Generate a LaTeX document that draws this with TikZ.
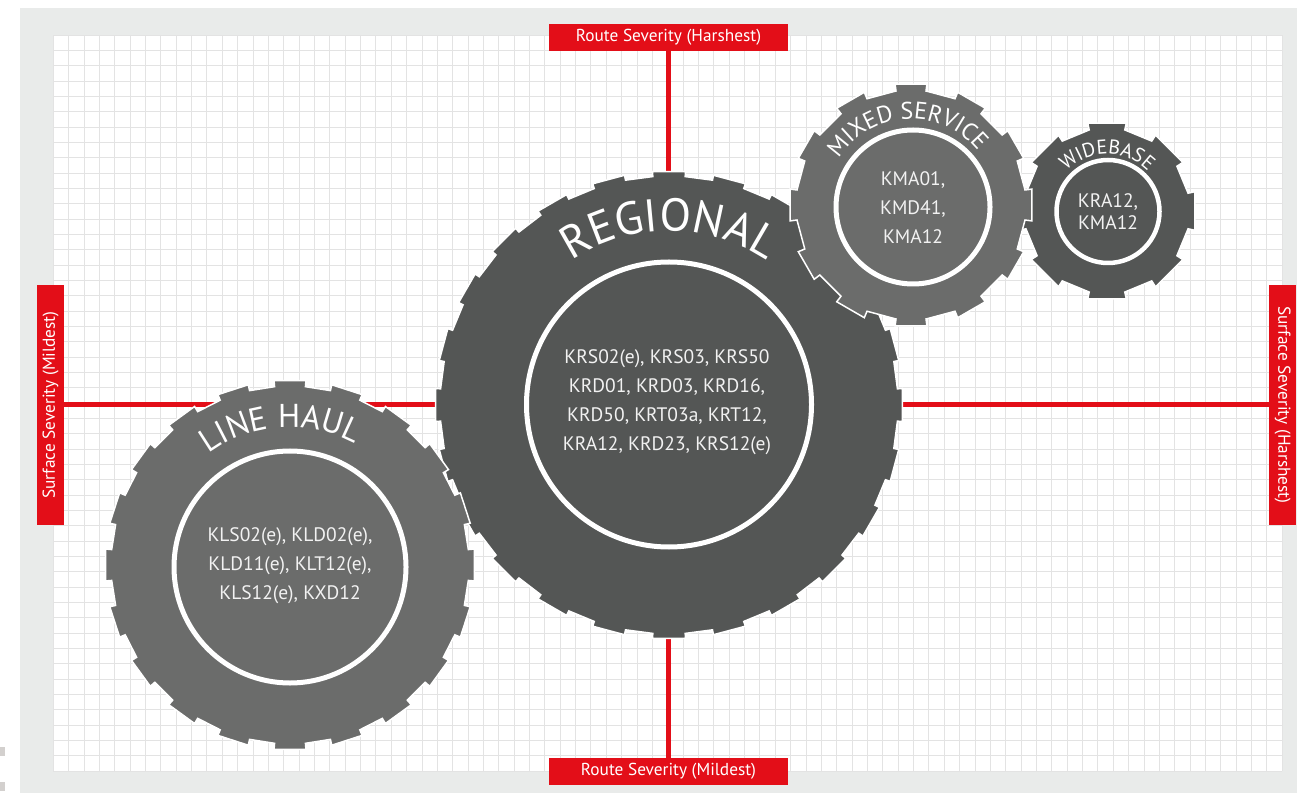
\documentclass[tikz,border=0pt]{standalone}
\usepackage{fontspec}
\setmainfont{PT Sans}
\usetikzlibrary{decorations.text}
\definecolor{framec}{HTML}{E9EBEA}
\definecolor{gridc}{HTML}{E3E3E3}
\definecolor{redc}{HTML}{E30E18}
\definecolor{darkt}{HTML}{545655}
\definecolor{lightt}{HTML}{6B6C6B}
\definecolor{txtc}{HTML}{F2F2F2}
\definecolor{markc}{HTML}{D3D0CE}

\newcommand{\geartire}[7]{%
 \pgfmathsetmacro{\gP}{360/#4}%
 \pgfmathsetmacro{\gH}{\gP*#6/2}%
 \pgfmathtruncatemacro{\gN}{#4-1}%
 \pgfmathsetmacro{\gr}{#3-#5}%
 \begin{scope}[shift={(#1,#2)}]
 \filldraw[fill=#7, draw=white, line width=1.5pt, line join=miter]
   ({90-\gH}:#3) \foreach \i in {0,...,\gN}{
     -- ({90+\i*\gP-\gH}:#3) -- ({90+\i*\gP+\gH}:#3)
     -- ({90+\i*\gP+\gH}:\gr) -- ({90+(\i+1)*\gP-\gH}:\gr)} -- cycle;
 \end{scope}}

\newcommand{\arctext}[6]{%
 \path[decorate, decoration={text along path, text align=center, text color=white,
   text={|\fontsize{#5}{#5}\selectfont|#6}}]
   (#1,#2) ++ ({#4+85}:#3) arc[start angle={#4+85}, end angle={#4-85}, radius=#3];}

\tikzset{
 redlabel/.style={fill=redc, text=white, minimum width=239pt, minimum height=27pt,
   inner sep=0pt, font=\fontsize{17.3}{17.3}\selectfont},
 axisline/.style={draw=redc, line width=5pt},
 gridline/.style={draw=gridc, line width=1pt},
 ringline/.style={draw=white, line width=5pt},
 tiretext/.style={text=txtc, align=center, inner sep=0pt,
   font=\fontsize{19.5}{29}\selectfont}
}

\begin{document}
\begin{tikzpicture}[x=1pt,y=1pt]
\useasboundingbox (0,0) rectangle (1297,793);
\fill[white] (0,0) rectangle (1297,793);
\fill[framec] (20,0) rectangle (1297,785);
\fill[white] (53,22) rectangle (1282,758);
\foreach \k in {0,...,80} \draw[gridline] ({53.3+\k*15.3625},22) -- ++(0,736);
\foreach \k in {0,...,48} \draw[gridline] (53.3,{22+\k*15.333}) -- ++(1229,0);
\fill[markc] (0,37) rectangle (5,46);
\fill[markc] (0,2) rectangle (5,11);

% axis labels
\node[redlabel] (rtop) at (668.5,755.5) {Route Severity (Harshest)};
\node[redlabel] (rbot) at (668.5,21.5) {Route Severity (Mildest)};
\node[redlabel, rotate=90] (sleft) at (50.5,388) {Surface Severity (Mildest)};
\node[redlabel, rotate=-90] (sright) at (1282.5,388) {Surface Severity (Harshest)};
\draw[axisline] (rtop) -- (rbot);
\draw[axisline] (sleft) -- (sright);

% tires
\geartire{669}{388}{234}{24}{5}{0.54}{darkt}
\geartire{1107}{582}{90}{8}{7}{0.55}{darkt}
\geartire{911}{588}{122}{12}{7}{0.5}{lightt}
\geartire{290}{228}{185}{20}{6}{0.55}{lightt}

\draw[ringline] (669,388.5) circle[radius=142.5];
\draw[ringline] (290,226) circle[radius=116];
\draw[ringline] (913,586) circle[radius=77];
\draw[ringline, line width=4.5pt] (1108,581.5) circle[radius=51.5];

\arctext{669}{388}{174}{90}{46}{REGIONAL}
\arctext{290}{228}{138}{94}{33}{LINE HAUL}
\arctext{911}{588}{86}{93}{24}{MIXED SERVICE}
\arctext{1107}{582}{57}{90}{20}{WIDEBASE}

\node[tiretext] (reg) at (667,390.5) {KRS02(e), KRS03, KRS50\\KRD01, KRD03, KRD16,\\KRD50, KRT03a, KRT12,\\KRA12, KRD23, KRS12(e)};
\node[tiretext] (lh) at (290,227) {KLS02(e), KLD02(e),\\KLD11(e), KLT12(e),\\KLS12(e), KXD12};
\node[tiretext] (mix) at (913,585) {KMA01,\\KMD41,\\KMA12};
\node[tiretext, font=\fontsize{19.5}{22}\selectfont] (wide) at (1108,581) {KRA12,\\KMA12};
\end{tikzpicture}
\end{document}
